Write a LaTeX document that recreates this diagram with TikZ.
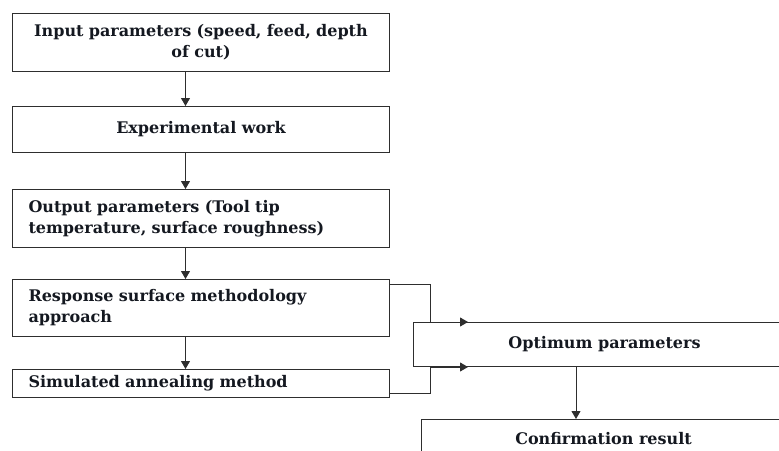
\documentclass[tikz,border=0pt]{standalone}
\usepackage{fontspec}
\setmainfont{DejaVu Serif}
\usetikzlibrary{arrows.meta,positioning}
\definecolor{fcline}{HTML}{2E2E2E}
\definecolor{fctext}{HTML}{141820}

\begin{document}
\begin{tikzpicture}[
  x=1pt, y=-1pt,
  font=\fontsize{16}{21}\selectfont\bfseries, text=fctext,
  box/.style={draw=fcline, line width=1pt, rectangle, minimum width=377pt, text width=345pt, inner xsep=16pt, inner ysep=0pt},
  mid/.style={box, align=center},
  lft/.style={box, align=left},
  wide/.style={draw=fcline, line width=1pt, rectangle, align=center, inner sep=0pt},
  flow/.style={-{Triangle[length=8pt, width=9pt]}, line width=1pt, fcline},
  link/.style={line width=1pt, fcline},
  node distance=34pt]
  \clip (0,0) rectangle (779,450);
  \node[mid, anchor=north west, minimum height=58pt] (inp) at (12,13) {Input parameters (speed, feed, depth\\ of cut)};
  \node[mid, below=34pt of inp, minimum height=46pt] (exp) {Experimental work};
  \node[lft, below=36pt of exp, minimum height=58pt] (outp) {Output parameters (Tool tip\\ temperature, surface roughness)};
  \node[lft, below=31pt of outp, minimum height=57pt] (rsm) {Response surface methodology\\ approach};
  \node[lft, below=32pt of rsm, minimum height=28pt] (sim) {Simulated annealing method};
  \node[wide, anchor=north west, minimum width=382pt, minimum height=44pt] (opt) at (413,322) {Optimum parameters};
  \node[wide, anchor=north west, minimum width=364pt, minimum height=38pt] (conf) at (421,419) {Confirmation result};
  \draw[flow] ([xshift=-15.5pt]inp.south) -- ([xshift=-15.5pt]exp.north);
  \draw[flow] ([xshift=-15.5pt]exp.south) -- ([xshift=-15.5pt]outp.north);
  \draw[flow] ([xshift=-15.5pt]outp.south) -- ([xshift=-15.5pt]rsm.north);
  \draw[flow] ([xshift=-15.5pt]rsm.south) -- ([xshift=-15.5pt]sim.north);
  \coordinate (jt) at ([xshift=17pt]opt.north west);
  \coordinate (jb) at ([xshift=17pt]opt.south west);
  \draw[link] ([yshift=-5pt]rsm.north east) -| (jt);
  \draw[flow] (jt) -- ([xshift=55pt]opt.north west);
  \draw[link] ([yshift=5pt]sim.south east) -| (jb);
  \draw[flow] (jb) -- ([xshift=55pt]opt.south west);
  \coordinate (drop) at ([xshift=163pt]opt.south west);
  \draw[flow] (drop) -- (drop |- conf.north);
\end{tikzpicture}
\end{document}
